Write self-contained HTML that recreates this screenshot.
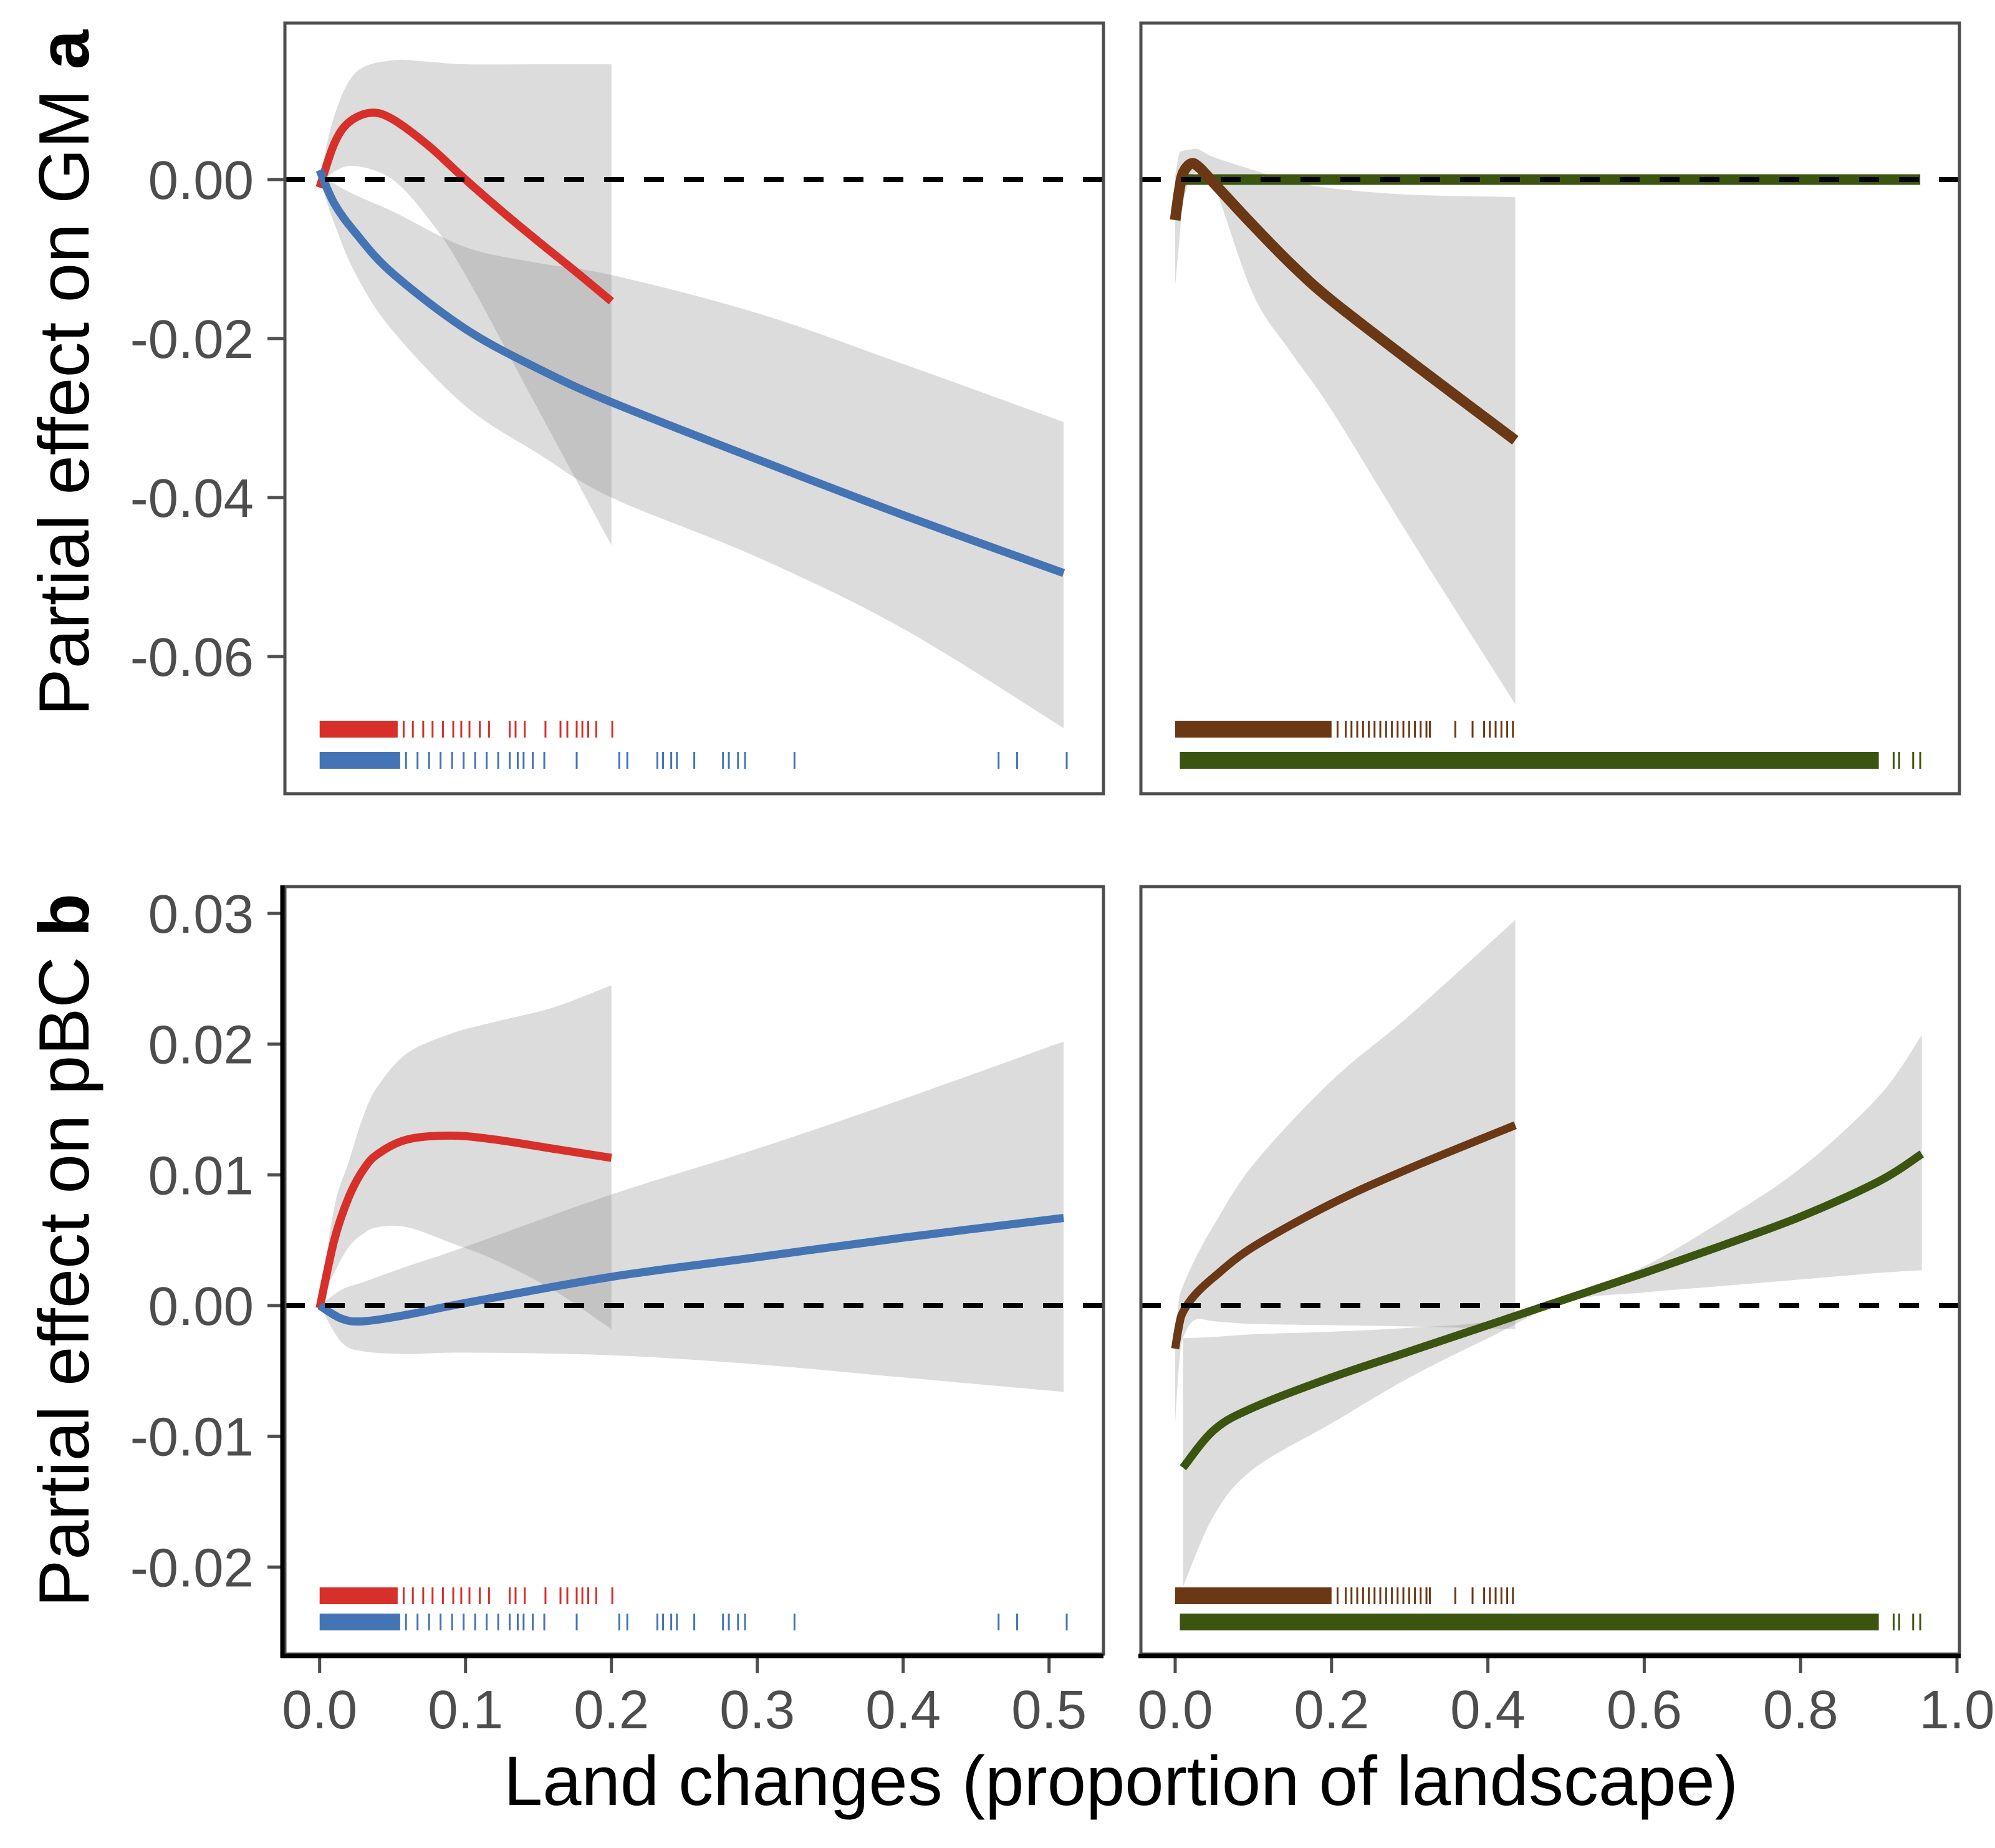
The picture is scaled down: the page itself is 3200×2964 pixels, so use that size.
<!DOCTYPE html>
<html><head><meta charset="utf-8"><style>
html,body{margin:0;padding:0;background:#fff}
svg{display:block}
</style></head><body>
<svg id="chart" xmlns="http://www.w3.org/2000/svg" width="3200" height="2964" viewBox="0 0 3200 2964" font-family="Liberation Sans, Arial, sans-serif">
<rect x="0" y="0" width="3200" height="2964" fill="#fff"/>
<g id="root"></g>
</svg>
<script>
// ---------- data ----------
const topLeftRedX   = [0,0.01,0.02,0.035,0.05,0.075,0.1,0.125,0.15,0.175,0.2];
const topLeftRedY   = [-0.001,0.0045,0.0072,0.0084,0.0076,0.0042,0,-0.004,-0.0078,-0.0115,-0.0153];
const topLeftRedBandX  = [0,0.01,0.025,0.05,0.075,0.1,0.15,0.2];
const topLeftRedUpper  = [0,0.008,0.0135,0.015,0.0148,0.0145,0.0145,0.0145];
const topLeftRedLower  = [-0.001,0.001,0.0017,0.0,-0.005,-0.012,-0.029,-0.046];
const topLeftBlueX  = [0,0.01,0.025,0.05,0.1,0.15,0.2,0.3,0.4,0.51];
const topLeftBlueY  = [0.0012,-0.003,-0.0068,-0.0118,-0.0188,-0.0238,-0.028,-0.0352,-0.0422,-0.0495];
const topLeftBlueUpper = [0.001,-0.0005,-0.002,-0.004,-0.0085,-0.0105,-0.012,-0.0168,-0.0232,-0.0305];
const topLeftBlueLower = [0,-0.0055,-0.012,-0.019,-0.0285,-0.0345,-0.040,-0.0475,-0.0565,-0.069];

const topRightBrownX = [0,0.005,0.01,0.02,0.03,0.05,0.1,0.15,0.2,0.3,0.435];
const topRightBrownY = [-0.0051,-0.0015,0.0008,0.0020,0.0016,-0.0005,-0.0058,-0.0108,-0.0152,-0.0228,-0.0328];
const topRightBrownUpper = [0.0005,0.0032,0.0036,0.0038,0.0038,0.0028,0.0012,-0.0002,-0.0011,-0.0019,-0.0022];
const topRightBrownLower = [-0.0133,-0.008,-0.003,0.0002,0.0008,-0.0008,-0.0145,-0.022,-0.029,-0.045,-0.066];
const topRightGreenX = [0.006,0.953];
const topRightGreenY = [0,0];

const botLeftRedX  = [0,0.01,0.02,0.03,0.04,0.06,0.09,0.12,0.16,0.2];
const botLeftRedY  = [-0.0002,0.005,0.0083,0.0104,0.0116,0.0127,0.013,0.0127,0.012,0.0113];
const botLeftRedUpper = [0,0.0075,0.011,0.0145,0.0168,0.0193,0.0208,0.0217,0.0228,0.0245];
const botLeftRedLower = [0,0.0025,0.0045,0.0055,0.006,0.006,0.0048,0.0035,0.0012,-0.0018];
const botLeftBlueX = [0,0.015,0.03,0.06,0.1,0.2,0.3,0.4,0.51];
const botLeftBlueY = [0,-0.001,-0.0012,-0.0007,0.0002,0.0022,0.0037,0.0052,0.0067];
const botLeftBlueUpper = [0,0.0012,0.0018,0.003,0.0045,0.0085,0.012,0.0158,0.0202];
const botLeftBlueLower = [0,-0.0028,-0.0035,-0.0037,-0.0036,-0.0038,-0.0045,-0.0055,-0.0066];

const botRightBrownX = [0,0.005,0.01,0.025,0.05,0.1,0.2,0.3,0.435];
const botRightBrownY = [-0.0033,-0.0015,-0.0005,0.0008,0.0022,0.0045,0.0078,0.0105,0.0138];
const botRightBrownUpper = [-0.002,0.0005,0.0015,0.0035,0.0062,0.0108,0.0172,0.0222,0.0295];
const botRightBrownLower = [-0.009,-0.0045,-0.0025,-0.0011,-0.0012,-0.0014,-0.0015,-0.0016,-0.0018];
const botRightGreenX = [0.01,0.05,0.1,0.2,0.3,0.4,0.5,0.6,0.7,0.8,0.9,0.955];
const botRightGreenY = [-0.0124,-0.0095,-0.0078,-0.0055,-0.0035,-0.0015,0.0005,0.0025,0.0046,0.0068,0.0095,0.0116];
const botRightGreenUpper = [-0.0025,-0.0024,-0.0022,-0.002,-0.0017,-0.0012,0.0005,0.003,0.0065,0.0105,0.016,0.0207];
const botRightGreenLower = [-0.0215,-0.016,-0.0125,-0.009,-0.0055,-0.0025,0.0003,0.001,0.0015,0.002,0.0025,0.0027];

const redRugDense = [0,0.0535];
const redRugTicks = [0.0576,0.0639,0.071,0.0774,0.0845,0.0916,0.0971,0.1027,0.1098,0.1161,0.1303,0.1343,0.1406,0.1548,0.1651,0.1698,0.1762,0.1801,0.1841,0.1896,0.2006];
const blueRugDense = [0,0.0552];
const blueRugTicks = [0.0592,0.0671,0.075,0.0829,0.0908,0.0987,0.1066,0.1145,0.1224,0.1303,0.1358,0.1398,0.1461,0.154,0.1762,0.2054,0.2109,0.2315,0.2354,0.241,0.2449,0.2568,0.2765,0.2805,0.2868,0.2916,0.3255,0.4654,0.4781,0.5121];
const brownRugDense = [0,0.2];
const brownRugTicks = [0.2077,0.2182,0.2255,0.2329,0.2403,0.2477,0.255,0.2624,0.2698,0.2772,0.2845,0.2919,0.2993,0.3067,0.314,0.3214,0.3258,0.3583,0.3804,0.3952,0.4025,0.4099,0.4173,0.4247,0.432];
const greenRugDense = [0.006,0.9];
const greenRugTicks = [0.919,0.926,0.944,0.953];

const topYTicks = [0,-0.02,-0.04,-0.06];
const topYLabels = ["0.00","-0.02","-0.04","-0.06"];
const botYTicks = [0.03,0.02,0.01,0,-0.01,-0.02];
const botYLabels = ["0.03","0.02","0.01","0.00","-0.01","-0.02"];
const leftXTicks = [0,0.1,0.2,0.3,0.4,0.5];
const leftXLabels = ["0.0","0.1","0.2","0.3","0.4","0.5"];
const rightXTicks = [0,0.2,0.4,0.6,0.8,1.0];
const rightXLabels = ["0.0","0.2","0.4","0.6","0.8","1.0"];

// ---------- scales ----------
const NS="http://www.w3.org/2000/svg";
const root=document.getElementById('root');
const xLeft = v => 512.7 + 2340*v;
const xRight = v => 1885 + 1254*v;
const yTop = v => 288 - 12750*v;
const yBot = v => 2094 - 20967*v;
const C={red:"#d7302a",blue:"#4574b4",brown:"#6b3816",green:"#3b5511"};

function mk(tag,attrs,parent){const e=document.createElementNS(NS,tag);for(const k in attrs)e.setAttribute(k,attrs[k]);(parent||root).appendChild(e);return e;}
function smooth(pts){
  if(pts.length<3){return "M"+pts.map(p=>p[0].toFixed(1)+","+p[1].toFixed(1)).join(" L");}
  let d="M"+pts[0][0].toFixed(1)+","+pts[0][1].toFixed(1);
  for(let i=0;i<pts.length-1;i++){
    const p0=pts[Math.max(0,i-1)],p1=pts[i],p2=pts[i+1],p3=pts[Math.min(pts.length-1,i+2)];
    const c1=[p1[0]+(p2[0]-p0[0])/6,p1[1]+(p2[1]-p0[1])/6];
    const c2=[p2[0]-(p3[0]-p1[0])/6,p2[1]-(p3[1]-p1[1])/6];
    d+=" C"+c1[0].toFixed(1)+","+c1[1].toFixed(1)+" "+c2[0].toFixed(1)+","+c2[1].toFixed(1)+" "+p2[0].toFixed(1)+","+p2[1].toFixed(1);
  }
  return d;
}
function band(g,xs,up,lo,sx,sy){
  const u=xs.map((x,i)=>[sx(x),sy(up[i])]);
  const l=xs.map((x,i)=>[sx(x),sy(lo[i])]).reverse();
  let d=smooth(u)+" L"+smooth(l).slice(1)+" Z";
  const p=mk('path',{d:d,fill:"#8c8c8c","fill-opacity":"0.3",stroke:"none"},g);
  
  
}
function curve(g,xs,ys,sx,sy,col,w,name){
  const p=mk('path',{d:smooth(xs.map((x,i)=>[sx(x),sy(ys[i])])),fill:"none",stroke:col,"stroke-width":w,"stroke-linecap":"butt","stroke-linejoin":"round"},g);
  
  
}
function rug(g,dense,ticks,sx,y0,h,col,name){
  const r=mk('rect',{x:sx(dense[0]),y:y0,width:sx(dense[1])-sx(dense[0]),height:h,fill:col},g);
  
  
  ticks.forEach(t=>{
    const l=mk('rect',{x:sx(t)-1.5,y:y0,width:3,height:h,fill:col},g);
    
    
  });
}
function panel(name,x0,x1,y0,y1){
  const g=mk('g',{});
  
  
  const cp=mk('clipPath',{id:'cp-'+name},g);
  mk('rect',{x:x0,y:y0,width:x1-x0,height:y1-y0},cp);
  const inner=mk('g',{'clip-path':'url(#cp-'+name+')'},g);
  return {g,inner,x0,x1,y0,y1};
}
function frame(P,zeroY){
  const dl=mk('line',{x1:P.x0,x2:P.x1,y1:zeroY,y2:zeroY,stroke:"#000","stroke-width":8,"stroke-dasharray":"32 32"},P.inner);
  
  
  const b=mk('rect',{x:P.x0,y:P.y0,width:P.x1-P.x0,height:P.y1-P.y0,fill:"none",stroke:"#4d4d4d","stroke-width":5},P.g);
  
  
}
function yAxis(P,ticks,labels,sy){
  ticks.forEach((t,i)=>{
    const y=sy(t);
    const tk=mk('line',{x1:P.x0-28,x2:P.x0,y1:y,y2:y,stroke:"#4d4d4d","stroke-width":5});
    
    
    const tx=mk('text',{x:P.x0-50,y:y+31,"text-anchor":"end","font-size":87,fill:"#4d4d4d"});
    tx.textContent=labels[i];
    
    
  });
}
function xAxis(P,ticks,labels,sx){
  ticks.forEach((t,i)=>{
    const x=sx(t);
    const tk=mk('line',{x1:x,x2:x,y1:P.y1,y2:P.y1+30,stroke:"#4d4d4d","stroke-width":5});
    
    
    const tx=mk('text',{x:x,y:2772,"text-anchor":"middle","font-size":87,fill:"#4d4d4d"});
    tx.textContent=labels[i];
    
    
  });
}

// ---------- panels ----------
const TL=panel('panel-a-left',457,1770,37,1273);
band(TL.inner,topLeftRedBandX,topLeftRedUpper,topLeftRedLower,xLeft,yTop);
band(TL.inner,topLeftBlueX,topLeftBlueUpper,topLeftBlueLower,xLeft,yTop);
curve(TL.inner,topLeftRedX,topLeftRedY,xLeft,yTop,C.red,13,'series-red-curve');
curve(TL.inner,topLeftBlueX,topLeftBlueY,xLeft,yTop,C.blue,13,'series-blue-curve');
rug(TL.inner,redRugDense,redRugTicks,xLeft,1156,27,C.red,'rug-red');
rug(TL.inner,blueRugDense,blueRugTicks,xLeft,1206,27,C.blue,'rug-blue');
frame(TL,yTop(0));
yAxis(TL,topYTicks,topYLabels,yTop);

const TR=panel('panel-a-right',1830,3143,37,1273);
band(TR.inner,topRightBrownX,topRightBrownUpper,topRightBrownLower,xRight,yTop);
curve(TR.inner,topRightGreenX,topRightGreenY,xRight,yTop,C.green,17,'series-green-curve');
curve(TR.inner,topRightBrownX,topRightBrownY,xRight,yTop,C.brown,17,'series-brown-curve');
rug(TR.inner,brownRugDense,brownRugTicks,xRight,1156,27,C.brown,'rug-brown');
rug(TR.inner,greenRugDense,greenRugTicks,xRight,1206,27,C.green,'rug-green');
frame(TR,yTop(0));

const BL=panel('panel-b-left',457,1770,1422,2653);
band(BL.inner,botLeftRedX,botLeftRedUpper,botLeftRedLower,xLeft,yBot);
band(BL.inner,botLeftBlueX,botLeftBlueUpper,botLeftBlueLower,xLeft,yBot);
curve(BL.inner,botLeftRedX,botLeftRedY,xLeft,yBot,C.red,13,'series-red-curve');
curve(BL.inner,botLeftBlueX,botLeftBlueY,xLeft,yBot,C.blue,13,'series-blue-curve');
rug(BL.inner,redRugDense,redRugTicks,xLeft,2546,27,C.red,'rug-red');
rug(BL.inner,blueRugDense,blueRugTicks,xLeft,2588,27,C.blue,'rug-blue');
frame(BL,yBot(0));
yAxis(BL,botYTicks,botYLabels,yBot);
xAxis(BL,leftXTicks,leftXLabels,xLeft);

const BR=panel('panel-b-right',1830,3143,1422,2653);
band(BR.inner,botRightBrownX,botRightBrownUpper,botRightBrownLower,xRight,yBot);
band(BR.inner,botRightGreenX,botRightGreenUpper,botRightGreenLower,xRight,yBot);
curve(BR.inner,botRightBrownX,botRightBrownY,xRight,yBot,C.brown,13,'series-brown-curve');
curve(BR.inner,botRightGreenX,botRightGreenY,xRight,yBot,C.green,13,'series-green-curve');
rug(BR.inner,brownRugDense,brownRugTicks,xRight,2546,27,C.brown,'rug-brown');
rug(BR.inner,greenRugDense,greenRugTicks,xRight,2588,27,C.green,'rug-green');
frame(BR,yBot(0));
xAxis(BR,rightXTicks,rightXLabels,xRight);

// black axis lines for bottom row
[[451,2656,1770,2656],[1826,2656,3145,2656],[453,1420,453,2659]].forEach(a=>{
  const l=mk('line',{x1:a[0],y1:a[1],x2:a[2],y2:a[3],stroke:"#000","stroke-width":7});
  
  
});
</script>
<script>
(function(){
const NS="http://www.w3.org/2000/svg";
const root=document.getElementById('root');
function t(x,y,rot,anchor,size,parts,name){
  const e=document.createElementNS(NS,'text');
  e.setAttribute('x',x);e.setAttribute('y',y);e.setAttribute('text-anchor',anchor);e.setAttribute('font-size',size);e.setAttribute('fill','#000');
  if(rot) e.setAttribute('transform','rotate(-90 '+x+' '+y+')');
  parts.forEach(p=>{const s=document.createElementNS(NS,'tspan');s.textContent=p[0];if(p[1])s.setAttribute('font-weight','bold');e.appendChild(s);});
  
  
  root.appendChild(e);
}
t(142,48,true,'end',114,[["Partial effect on GM ",false],["a",true]],'y-axis-title-a');
t(142,1433,true,'end',114,[["Partial effect on pBC ",false],["b",true]],'y-axis-title-b');
t(1798,2895,false,'middle',112,[["Land changes (proportion of landscape)",false]],'x-axis-title');
})();
</script>
</body></html>
